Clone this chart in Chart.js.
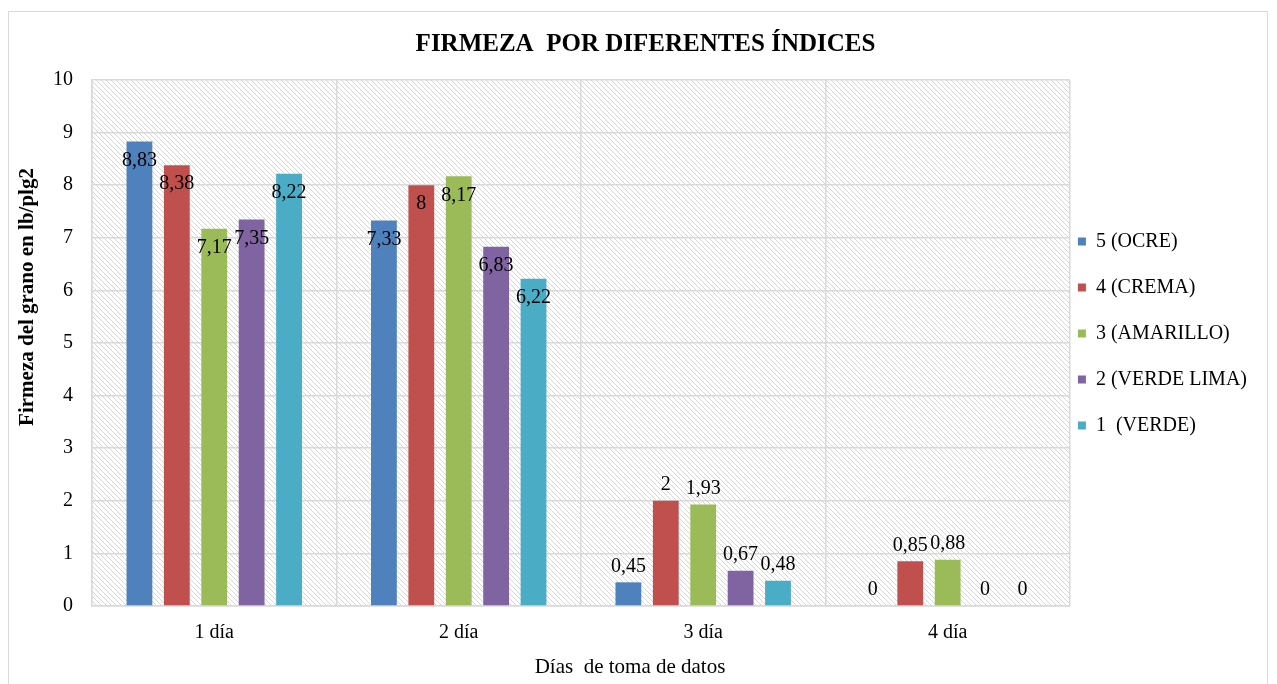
<!DOCTYPE html>
<html>
<head>
<meta charset="utf-8">
<script src="https://cdn.jsdelivr.net/npm/chart.js@4.4.0/dist/chart.umd.min.js"></script>
<style>
  html, body { margin: 0; padding: 0; background: #fff; }
  #wrap { width: 1277px; height: 684px; }
</style>
</head>
<body>
<div id="wrap"><canvas id="grafica" width="1277" height="684"></canvas></div>
<script>
// Datos
const dias = ['1 día', '2 día', '3 día', '4 día'];
const indices = ['5 (OCRE)', '4 (CREMA)', '3 (AMARILLO)', '2 (VERDE LIMA)', '1  (VERDE)'];
const ocre = [8.83, 7.33, 0.45, 0];
const crema = [8.38, 8, 2, 0.85];
const amarillo = [7.17, 8.17, 1.93, 0.88];
const verdeLima = [7.35, 6.83, 0.67, 0];
const verde = [8.22, 6.22, 0.48, 0];
const colores = ['#4F81BD', '#C0504D', '#9BBB59', '#8064A2', '#4BACC6'];

const tituloX = 'Días  de toma de datos';
const tituloY = 'Firmeza del grano en lb/plg2';

const fuente = "'Liberation Serif', 'Times New Roman', serif";

// Fondo rayado del area de trazado y marco exterior
const fondoRayado = {
    id: 'fondoRayado',
    beforeDraw(chart) {
        const { ctx, chartArea: a } = chart;
        ctx.save();
        ctx.strokeStyle = '#d9d9d9';
        ctx.lineWidth = 1;
        ctx.strokeRect(8.5, 11.5, 1259, 690);
        ctx.beginPath();
        ctx.rect(a.left, a.top, a.right - a.left, a.bottom - a.top);
        ctx.clip();
        ctx.strokeStyle = '#d6d6d6';
        const h = a.bottom - a.top;
        ctx.beginPath();
        for (let k = -h; k < a.right - a.left; k += 5) {
            ctx.moveTo(a.left + k, a.top);
            ctx.lineTo(a.left + k + h, a.bottom);
        }
        ctx.stroke();
        ctx.restore();
    }
};

// Acerca la leyenda al area de trazado y la sube un poco
const moverLeyenda = {
    id: 'moverLeyenda',
    afterLayout(chart) {
        const l = chart.legend;
        l.left -= 18;
        l.top -= 21;
        l.bottom -= 21;
    }
};

// Titulos de los ejes (en la grafica original no van centrados en el area)
const titulosEjes = {
    id: 'titulosEjes',
    afterDraw(chart) {
        const ctx = chart.ctx;
        ctx.save();
        ctx.fillStyle = '#000';
        ctx.textAlign = 'center';
        ctx.textBaseline = 'middle';
        ctx.font = '21px ' + fuente;
        ctx.fillText(tituloX, 630, 667);
        ctx.translate(28, 297);
        ctx.rotate(-Math.PI / 2);
        ctx.font = 'bold 21px ' + fuente;
        ctx.fillText(tituloY, 0, 0);
        ctx.restore();
    }
};

// Etiquetas de valores sobre las barras
const etiquetas = {
    id: 'etiquetas',
    afterDatasetsDraw(chart) {
        const ctx = chart.ctx;
        ctx.save();
        ctx.font = '20px ' + fuente;
        ctx.fillStyle = '#000';
        ctx.textAlign = 'center';
        ctx.textBaseline = 'middle';
        chart.data.datasets.forEach((ds, i) => {
            const meta = chart.getDatasetMeta(i);
            meta.data.forEach((barra, j) => {
                const v = ds.data[j];
                const texto = String(v).replace('.', ',');
                const y = v > 5 ? barra.y + 19 : barra.y - 16;
                ctx.fillText(texto, barra.x, y);
            });
        });
        ctx.restore();
    }
};

const series = [ocre, crema, amarillo, verdeLima, verde];

const config = {
    type: 'bar',
    data: {
        labels: dias,
        datasets: series.map((s, i) => ({
            label: indices[i],
            data: s,
            backgroundColor: colores[i],
            borderWidth: 0,
            categoryPercentage: 0.765,
            barPercentage: 0.69
        }))
    },
    options: {
        responsive: false,
        animation: false,
        layout: { padding: { left: 16, right: 2, top: 30, bottom: 5 } },
        plugins: {
            title: {
                display: true,
                text: 'FIRMEZA  POR DIFERENTES ÍNDICES',
                color: '#000',
                font: { family: fuente, size: 25, weight: 'bold' },
                padding: { top: 0, bottom: 20 }
            },
            legend: {
                position: 'right',
                labels: {
                    color: '#000',
                    font: { family: fuente, size: 20 },
                    boxWidth: 8,
                    boxHeight: 8,
                    padding: 26
                }
            },
            tooltip: { enabled: false }
        },
        scales: {
            x: {
                afterFit(scale) { scale.height = 73; },
                grid: { color: '#d9d9d9', lineWidth: 1.5, drawTicks: false },
                border: { color: '#d9d9d9', width: 1.5 },
                ticks: { color: '#000', font: { family: fuente, size: 20 }, padding: 15 }
            },
            y: {
                afterFit(scale) { scale.width = 76; },
                min: 0,
                max: 10,
                grid: { color: '#d9d9d9', lineWidth: 1.5, drawTicks: false },
                border: { color: '#d9d9d9', width: 1.5 },
                ticks: { stepSize: 1, color: '#000', font: { family: fuente, size: 20 }, padding: 19 }
            }
        }
    },
    plugins: [fondoRayado, moverLeyenda, etiquetas, titulosEjes]
};

new Chart(document.getElementById('grafica'), config);
</script>
</body>
</html>
